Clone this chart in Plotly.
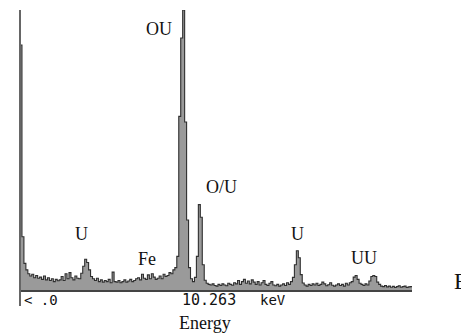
import plotly.graph_objects as go

# EDS spectrum, channel width 0.1 keV, 0-20 keV
channel_width_kev = 0.1
counts = [
    875, 190, 95, 72, 58, 50, 56, 44, 52, 42,
    46, 38, 50, 36, 44, 34, 40, 30, 38, 33,
    36, 48, 34, 58, 40, 62, 44, 36, 50, 42,
    40, 60, 85, 110, 98, 72, 48, 40, 34, 42,
    30, 36, 28, 34, 30, 38, 26, 64, 30, 28,
    34, 26, 30, 36, 28, 32, 38, 30, 34, 40,
    44, 36, 56, 42, 38, 54, 40, 58, 46, 38,
    42, 50, 40, 56, 48, 52, 62, 58, 72, 80,
    120, 620, 900, 1000, 600, 250, 80, 40, 30, 45,
    120, 305, 260, 90, 35, 24, 20, 18, 22, 16,
    14, 20, 16, 22, 18, 15, 24, 20, 17, 26,
    22, 34, 20, 30, 38, 24, 32, 22, 36, 28,
    20, 30, 18, 26, 34, 20, 16, 24, 30, 18,
    15, 20, 14, 18, 22, 16, 26, 20, 30, 45,
    90, 140, 115, 55, 25, 18, 14, 20, 16, 22,
    18, 24, 16, 20, 28, 22, 15, 19, 26, 17,
    14, 18, 22, 16, 20, 14, 24, 18, 26, 30,
    46, 52, 38, 24, 20, 16, 22, 18, 32, 48,
    52, 48, 28, 20, 14, 12, 16, 11, 14, 10,
    13, 9, 12, 15, 10, 12, 14, 9, 11, 12,
]
energy = [i * channel_width_kev for i in range(len(counts))] + [len(counts) * channel_width_kev]
counts_plot = counts + [counts[-1]]

peak_labels = ["OU", "O/U", "U", "Fe", "U", "UU"]
axis_left_label = "< .0"
cursor_label = "10.263"
unit_label = "keV"
x_title = "Energy"

W, H = 461, 334
L, R, T, B = 20, 49, 10, 44
pw, ph = W - L - R, H - T - B

def px(x):
    return (x - L) / pw

def py(y):
    return (H - B - y) / ph

fig = go.Figure()
fig.add_trace(go.Scatter(
    x=energy, y=counts_plot, mode="lines", line_shape="hv",
    line=dict(color="#2f2f2f", width=1.1),
    fill="tozeroy", fillcolor="#9a9a9a", hoverinfo="skip",
))

serif = "Liberation Serif"
mono = "DejaVu Sans Mono"
label_pos = [(159, 29), (221, 187), (81, 234), (147, 259), (297, 234), (364, 258)]
ann = []
for t, (x, y) in zip(peak_labels, label_pos):
    ann.append(dict(text=t, x=px(x), y=py(y), xref="paper", yref="paper",
                    showarrow=False, xanchor="center", yanchor="middle",
                    font=dict(family=serif, size=18, color="#111")))
ann.append(dict(text=axis_left_label, x=px(22), y=py(300), xref="paper", yref="paper",
                showarrow=False, xanchor="left", yanchor="middle",
                font=dict(family=mono, size=14, color="#111")))
ann.append(dict(text=cursor_label, x=px(180), y=py(300), xref="paper", yref="paper",
                showarrow=False, xanchor="left", yanchor="middle",
                font=dict(family=mono, size=15, color="#111")))
ann.append(dict(text=unit_label, x=px(258), y=py(300), xref="paper", yref="paper",
                showarrow=False, xanchor="left", yanchor="middle",
                font=dict(family=mono, size=14, color="#111")))
ann.append(dict(text=x_title, x=px(204.5), y=py(323), xref="paper", yref="paper",
                showarrow=False, xanchor="center", yanchor="middle",
                font=dict(family=serif, size=18, color="#111")))
ann.append(dict(text="E", x=px(452), y=py(281), xref="paper", yref="paper",
                showarrow=False, xanchor="left", yanchor="middle",
                font=dict(family=serif, size=23, color="#111")))

fig.update_layout(
    width=W, height=H, margin=dict(l=L, r=R, t=T, b=B),
    paper_bgcolor="white", plot_bgcolor="white", showlegend=False,
    annotations=ann,
    shapes=[dict(type="line", xref="paper", yref="paper", x0=0, x1=0,
                 y0=py(306), y1=1, line=dict(color="#666", width=2))],
)
fig.update_xaxes(range=[0, 20], showgrid=False, zeroline=False, showticklabels=False,
                 ticks="", showline=True, linecolor="#444", linewidth=1.5)
fig.update_yaxes(range=[0, 1000], showgrid=False, zeroline=False, showticklabels=False,
                 ticks="", showline=False)

fig.write_html("out.html", config={"displayModeBar": False},
               post_script="document.body.style.margin='0';document.body.style.overflow='hidden';")
